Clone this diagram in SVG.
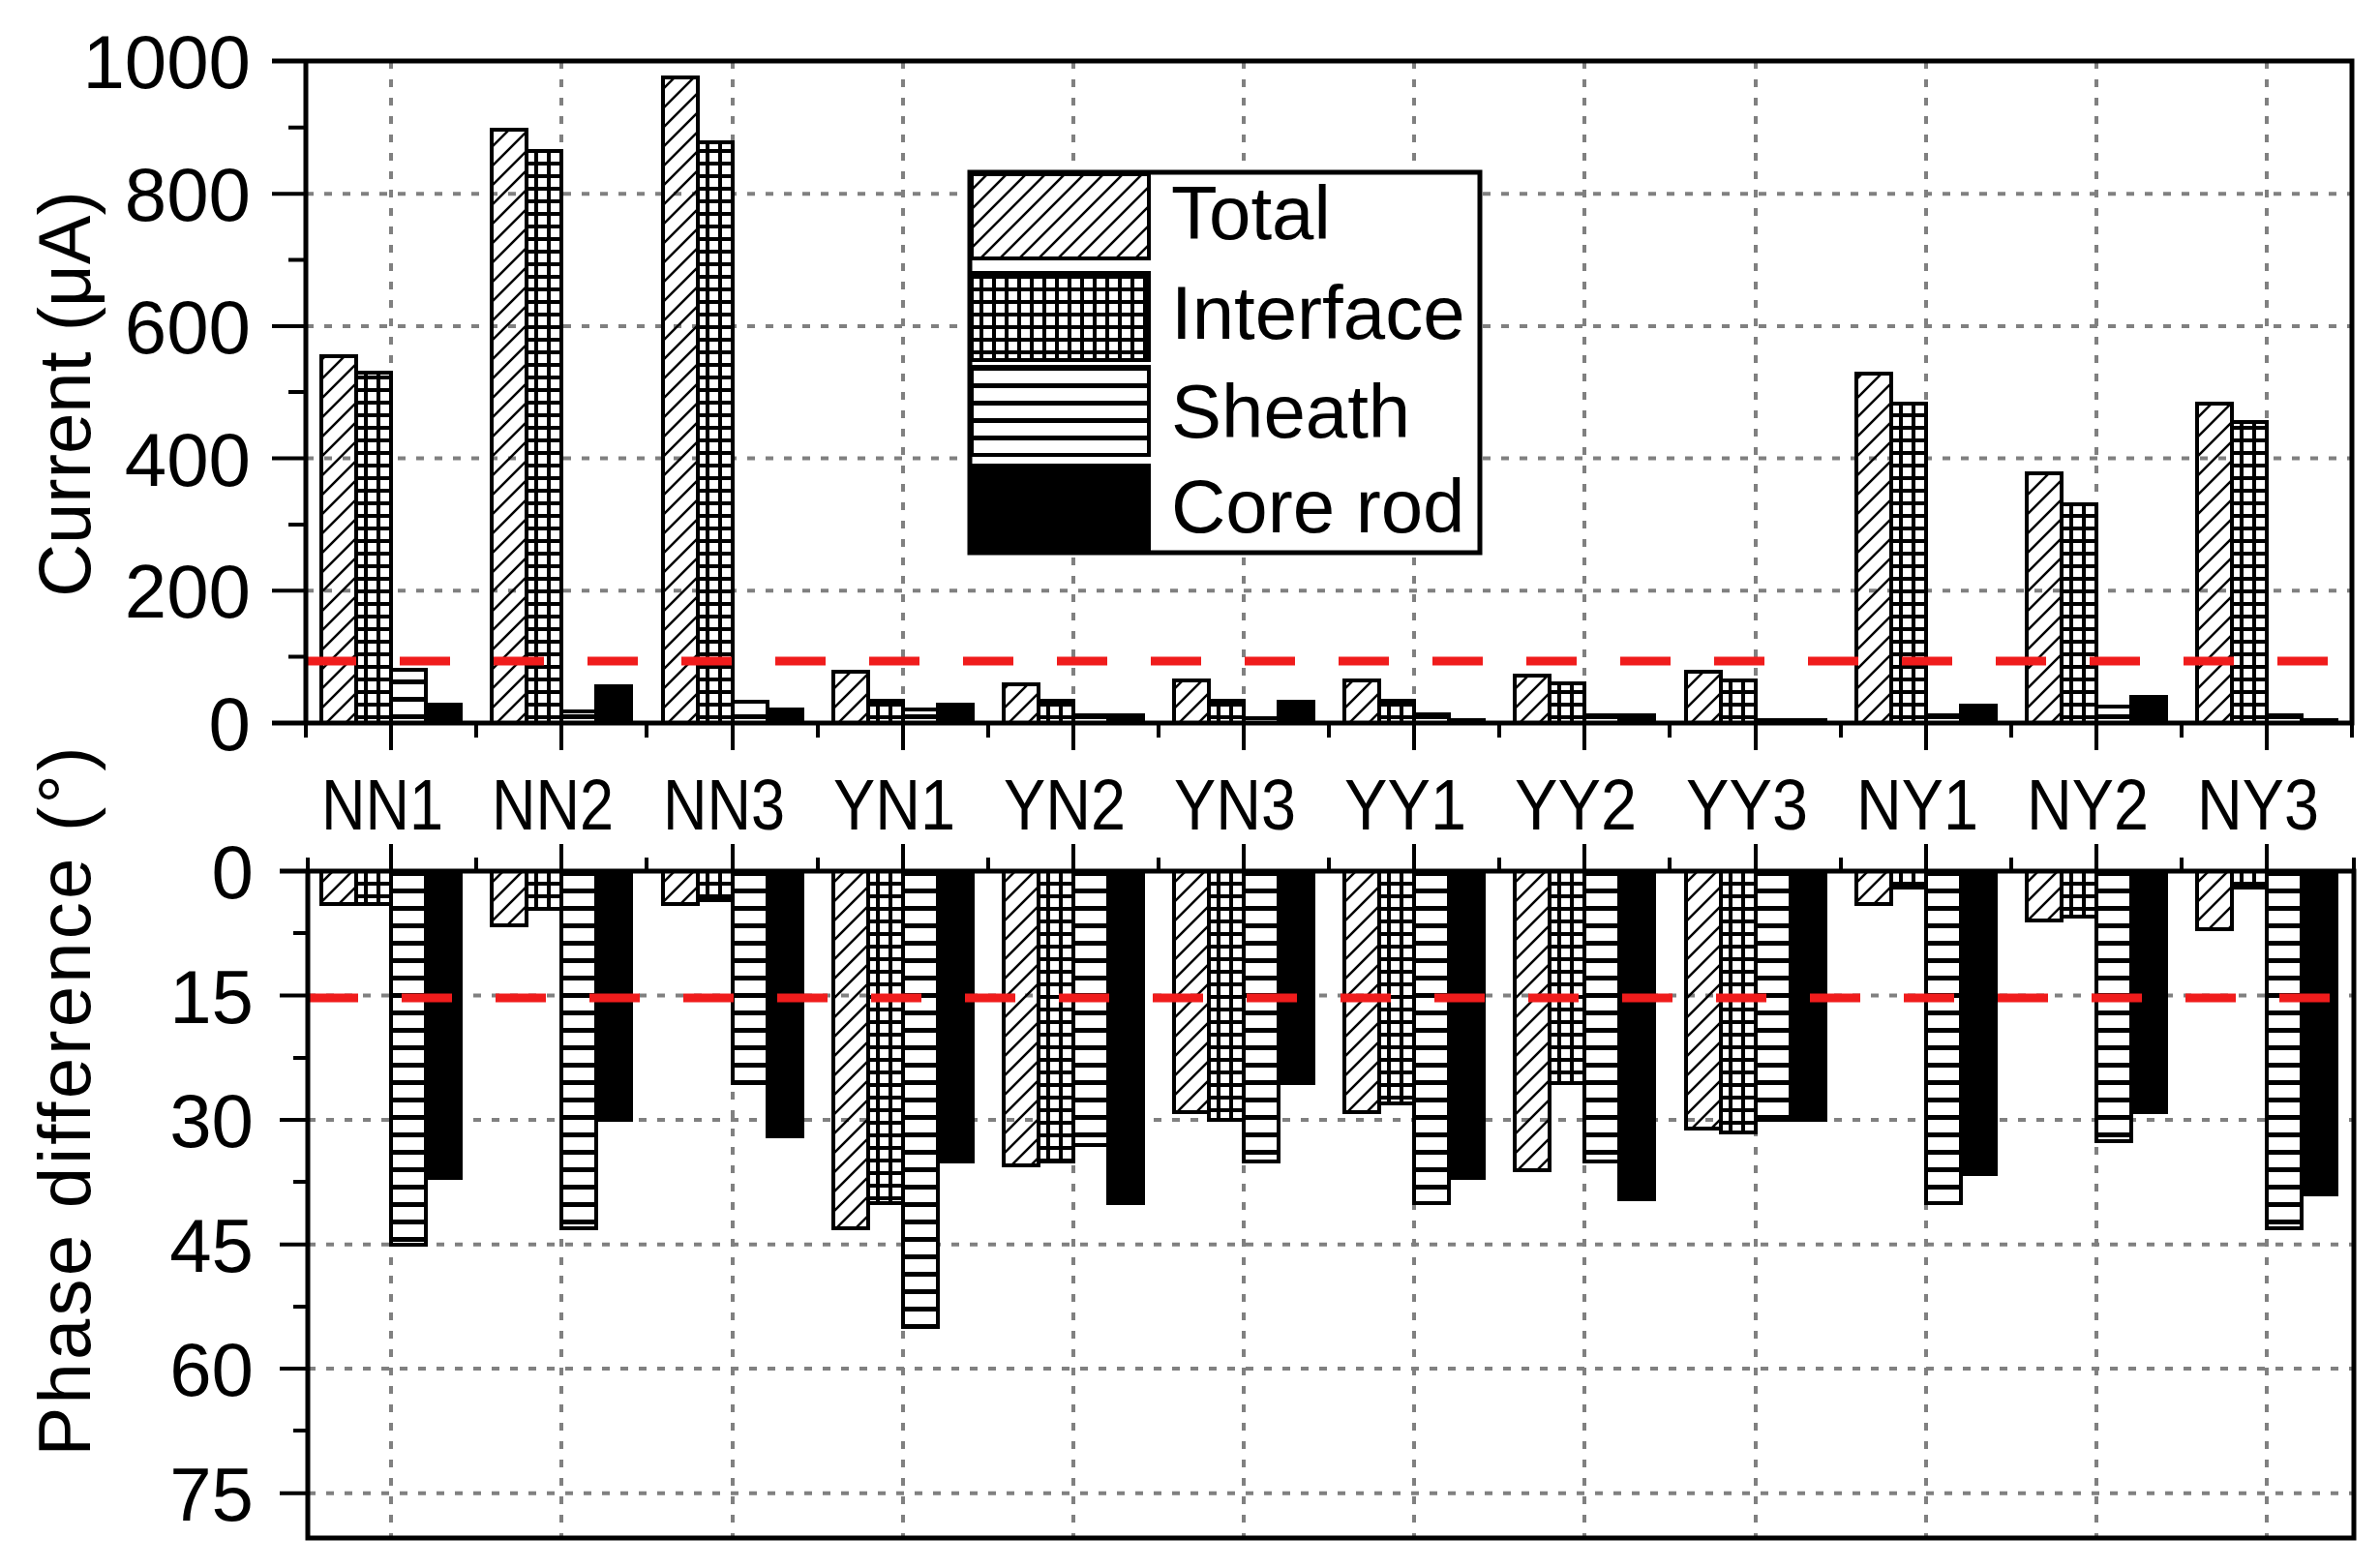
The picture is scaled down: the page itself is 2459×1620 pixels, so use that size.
<svg xmlns="http://www.w3.org/2000/svg" width="2459" height="1620" viewBox="0 0 2459 1620">
<defs>
<pattern id="pd" patternUnits="userSpaceOnUse" width="20" height="20"><path d="M-5,5 L5,-5 M0,20 L20,0 M15,25 L25,15" stroke="#000" stroke-width="2.5"/></pattern>
<pattern id="pg" patternUnits="userSpaceOnUse" width="13" height="13"><rect width="13" height="13" fill="#000"/><rect x="2" y="2" width="9" height="9" fill="#fff"/></pattern>
<pattern id="ph" patternUnits="userSpaceOnUse" width="18" height="18"><rect width="18" height="18" fill="#fff"/><rect y="0" width="18" height="5" fill="#000"/></pattern>
</defs>
<style>
.t{fill:url(#pd);stroke:#000;stroke-width:4}
.i{fill:url(#pg);stroke:#000;stroke-width:4}
.s{fill:url(#ph);stroke:#000;stroke-width:4}
.c{fill:#000;stroke:#000;stroke-width:4}
.grid{stroke:#808080;stroke-width:4;stroke-dasharray:8 11;fill:none}
.ax{stroke:#000;stroke-width:5;fill:none}
.tk{stroke:#000;stroke-width:4;fill:none}
.red{stroke:#f01c1c;stroke-width:9;stroke-dasharray:52 45;fill:none}
text{font-family:"Liberation Sans",Arial,sans-serif;fill:#000}
.num{font-size:78px;text-anchor:end}
.cat{font-size:74px;text-anchor:middle}
.leg{font-size:78px}
</style>
<g id="grid">
<path class="grid" d="M316,610.3H2430M316,473.6H2430M316,336.9H2430M316,200.2H2430"/>
<path class="grid" d="M404,63V747M580,63V747M757,63V747M933,63V747M1109,63V747M1285,63V747M1461,63V747M1637,63V747M1814,63V747M1990,63V747M2166,63V747M2342,63V747"/>
<path class="grid" d="M318,1028.6H2432M318,1157H2432M318,1285.7H2432M318,1414H2432M318,1542.8H2432"/>
<path class="grid" d="M404,900V1589M580,900V1589M757,900V1589M933,900V1589M1109,900V1589M1285,900V1589M1461,900V1589M1637,900V1589M1814,900V1589M1990,900V1589M2166,900V1589M2342,900V1589"/>
</g>
<g id="top-bars">
<g transform="translate(404,0)"><rect class="t" x="-72" y="368" width="36" height="379"/><rect class="i" x="-36" y="385" width="36" height="362"/><rect class="s" x="0" y="692" width="36" height="55"/><rect class="c" x="36" y="728" width="36" height="19"/></g>
<g transform="translate(580,0)"><rect class="t" x="-72" y="134" width="36" height="613"/><rect class="i" x="-36" y="156" width="36" height="591"/><rect class="s" x="0" y="735" width="36" height="12"/><rect class="c" x="36" y="709" width="36" height="38"/></g>
<g transform="translate(757,0)"><rect class="t" x="-72" y="80" width="36" height="667"/><rect class="i" x="-36" y="147" width="36" height="600"/><rect class="s" x="0" y="725" width="36" height="22"/><rect class="c" x="36" y="733" width="36" height="14"/></g>
<g transform="translate(933,0)"><rect class="t" x="-72" y="694" width="36" height="53"/><rect class="i" x="-36" y="724" width="36" height="23"/><rect class="s" x="0" y="733" width="36" height="14"/><rect class="c" x="36" y="728" width="36" height="19"/></g>
<g transform="translate(1109,0)"><rect class="t" x="-72" y="707" width="36" height="40"/><rect class="i" x="-36" y="724" width="36" height="23"/><rect class="s" x="0" y="739" width="36" height="8"/><rect class="c" x="36" y="739" width="36" height="8"/></g>
<g transform="translate(1285,0)"><rect class="t" x="-72" y="703" width="36" height="44"/><rect class="i" x="-36" y="724" width="36" height="23"/><rect class="s" x="0" y="742" width="36" height="5"/><rect class="c" x="36" y="725" width="36" height="22"/></g>
<g transform="translate(1461,0)"><rect class="t" x="-72" y="703" width="36" height="44"/><rect class="i" x="-36" y="724" width="36" height="23"/><rect class="s" x="0" y="738" width="36" height="9"/><rect class="c" x="36" y="744" width="36" height="3"/></g>
<g transform="translate(1637,0)"><rect class="t" x="-72" y="698" width="36" height="49"/><rect class="i" x="-36" y="706" width="36" height="41"/><rect class="s" x="0" y="739" width="36" height="8"/><rect class="c" x="36" y="739" width="36" height="8"/></g>
<g transform="translate(1814,0)"><rect class="t" x="-72" y="694" width="36" height="53"/><rect class="i" x="-36" y="703" width="36" height="44"/><rect class="s" x="0" y="744" width="36" height="3"/><rect class="c" x="36" y="744" width="36" height="3"/></g>
<g transform="translate(1990,0)"><rect class="t" x="-72" y="386" width="36" height="361"/><rect class="i" x="-36" y="417" width="36" height="330"/><rect class="s" x="0" y="739" width="36" height="8"/><rect class="c" x="36" y="729" width="36" height="18"/></g>
<g transform="translate(2166,0)"><rect class="t" x="-72" y="489" width="36" height="258"/><rect class="i" x="-36" y="521" width="36" height="226"/><rect class="s" x="0" y="730" width="36" height="17"/><rect class="c" x="36" y="720" width="36" height="27"/></g>
<g transform="translate(2342,0)"><rect class="t" x="-72" y="417" width="36" height="330"/><rect class="i" x="-36" y="436" width="36" height="311"/><rect class="s" x="0" y="739" width="36" height="8"/><rect class="c" x="36" y="744" width="36" height="3"/></g>
</g>
<g id="bottom-bars">
<g transform="translate(404,900)"><rect class="t" x="-72" y="0" width="36" height="34"/><rect class="i" x="-36" y="0" width="36" height="34"/><rect class="s" x="0" y="0" width="36" height="386"/><rect class="c" x="36" y="0" width="36" height="317"/></g>
<g transform="translate(580,900)"><rect class="t" x="-72" y="0" width="36" height="56"/><rect class="i" x="-36" y="0" width="36" height="39"/><rect class="s" x="0" y="0" width="36" height="369"/><rect class="c" x="36" y="0" width="36" height="257"/></g>
<g transform="translate(757,900)"><rect class="t" x="-72" y="0" width="36" height="34"/><rect class="i" x="-36" y="0" width="36" height="30"/><rect class="s" x="0" y="0" width="36" height="219"/><rect class="c" x="36" y="0" width="36" height="274"/></g>
<g transform="translate(933,900)"><rect class="t" x="-72" y="0" width="36" height="369"/><rect class="i" x="-36" y="0" width="36" height="343"/><rect class="s" x="0" y="0" width="36" height="471"/><rect class="c" x="36" y="0" width="36" height="300"/></g>
<g transform="translate(1109,900)"><rect class="t" x="-72" y="0" width="36" height="304"/><rect class="i" x="-36" y="0" width="36" height="300"/><rect class="s" x="0" y="0" width="36" height="283"/><rect class="c" x="36" y="0" width="36" height="343"/></g>
<g transform="translate(1285,900)"><rect class="t" x="-72" y="0" width="36" height="249"/><rect class="i" x="-36" y="0" width="36" height="257"/><rect class="s" x="0" y="0" width="36" height="300"/><rect class="c" x="36" y="0" width="36" height="219"/></g>
<g transform="translate(1461,900)"><rect class="t" x="-72" y="0" width="36" height="249"/><rect class="i" x="-36" y="0" width="36" height="240"/><rect class="s" x="0" y="0" width="36" height="343"/><rect class="c" x="36" y="0" width="36" height="317"/></g>
<g transform="translate(1637,900)"><rect class="t" x="-72" y="0" width="36" height="309"/><rect class="i" x="-36" y="0" width="36" height="219"/><rect class="s" x="0" y="0" width="36" height="300"/><rect class="c" x="36" y="0" width="36" height="339"/></g>
<g transform="translate(1814,900)"><rect class="t" x="-72" y="0" width="36" height="266"/><rect class="i" x="-36" y="0" width="36" height="270"/><rect class="s" x="0" y="0" width="36" height="257"/><rect class="c" x="36" y="0" width="36" height="257"/></g>
<g transform="translate(1990,900)"><rect class="t" x="-72" y="0" width="36" height="34"/><rect class="i" x="-36" y="0" width="36" height="17"/><rect class="s" x="0" y="0" width="36" height="343"/><rect class="c" x="36" y="0" width="36" height="313"/></g>
<g transform="translate(2166,900)"><rect class="t" x="-72" y="0" width="36" height="51"/><rect class="i" x="-36" y="0" width="36" height="47"/><rect class="s" x="0" y="0" width="36" height="279"/><rect class="c" x="36" y="0" width="36" height="249"/></g>
<g transform="translate(2342,900)"><rect class="t" x="-72" y="0" width="36" height="60"/><rect class="i" x="-36" y="0" width="36" height="17"/><rect class="s" x="0" y="0" width="36" height="369"/><rect class="c" x="36" y="0" width="36" height="334"/></g>
</g>
<g id="thresholds">
<path class="red" d="M316,683H2430"/>
<path class="red" d="M318,1031H2432"/>
</g>
<g id="axes">
<path class="ax" d="M281,63H2430V747H281M316,63V747"/>
<path class="tk" d="M281,610.3H316M281,473.6H316M281,336.9H316M281,200.2H316M298,678.6H316M298,542H316M298,405H316M298,268.5H316M298,131.8H316"/>
<path class="tk" d="M404,747V775M580,747V775M757,747V775M933,747V775M1109,747V775M1285,747V775M1461,747V775M1637,747V775M1814,747V775M1990,747V775M2166,747V775M2342,747V775M492,747V762M668,747V762M845,747V762M1021,747V762M1197,747V762M1373,747V762M1549,747V762M1725,747V762M1902,747V762M2078,747V762M2254,747V762M316,747V762M2430,747V762"/>
<path class="ax" d="M289,900H2432V1589H318V900"/>
<path class="tk" d="M289,1028.6H318M289,1157H318M289,1285.7H318M289,1414H318M289,1542.8H318M303,964H318M303,1093H318M303,1221H318M303,1350H318M303,1478H318"/>
<path class="tk" d="M404,900V872M580,900V872M757,900V872M933,900V872M1109,900V872M1285,900V872M1461,900V872M1637,900V872M1814,900V872M1990,900V872M2166,900V872M2342,900V872M492,900V886M668,900V886M845,900V886M1021,900V886M1197,900V886M1373,900V886M1549,900V886M1725,900V886M1902,900V886M2078,900V886M2254,900V886M318,900V886M2432,900V886"/>
</g>
<g id="labels">
<text class="num" x="259" y="91">1000</text>
<text class="num" x="259" y="228">800</text>
<text class="num" x="259" y="365">600</text>
<text class="num" x="259" y="502">400</text>
<text class="num" x="259" y="638">200</text>
<text class="num" x="259" y="775">0</text>
<text class="num" x="262" y="928">0</text>
<text class="num" x="262" y="1057">15</text>
<text class="num" x="262" y="1185">30</text>
<text class="num" x="262" y="1314">45</text>
<text class="num" x="262" y="1442">60</text>
<text class="num" x="262" y="1571">75</text>
<text class="cat" x="395" y="857" textLength="126" lengthAdjust="spacingAndGlyphs">NN1</text>
<text class="cat" x="571" y="857" textLength="126" lengthAdjust="spacingAndGlyphs">NN2</text>
<text class="cat" x="748" y="857" textLength="126" lengthAdjust="spacingAndGlyphs">NN3</text>
<text class="cat" x="924" y="857" textLength="126" lengthAdjust="spacingAndGlyphs">YN1</text>
<text class="cat" x="1100" y="857" textLength="126" lengthAdjust="spacingAndGlyphs">YN2</text>
<text class="cat" x="1276" y="857" textLength="126" lengthAdjust="spacingAndGlyphs">YN3</text>
<text class="cat" x="1452" y="857" textLength="126" lengthAdjust="spacingAndGlyphs">YY1</text>
<text class="cat" x="1628" y="857" textLength="126" lengthAdjust="spacingAndGlyphs">YY2</text>
<text class="cat" x="1805" y="857" textLength="126" lengthAdjust="spacingAndGlyphs">YY3</text>
<text class="cat" x="1981" y="857" textLength="126" lengthAdjust="spacingAndGlyphs">NY1</text>
<text class="cat" x="2157" y="857" textLength="126" lengthAdjust="spacingAndGlyphs">NY2</text>
<text class="cat" x="2333" y="857" textLength="126" lengthAdjust="spacingAndGlyphs">NY3</text>
<text font-size="76" text-anchor="middle" transform="translate(93,407) rotate(-90)">Current (μA)</text>
<text font-size="76" text-anchor="middle" transform="translate(93,1138) rotate(-90)" textLength="733" lengthAdjust="spacing">Phase difference (°)</text>
</g>
<g id="legend">
<rect x="1002" y="178" width="527" height="393" fill="#fff" stroke="#000" stroke-width="5"/>
<rect class="t" x="1004" y="180" width="183" height="87"/>
<rect class="i" x="1004" y="282" width="183" height="90"/>
<rect class="s" x="1004" y="379" width="183" height="91"/>
<rect class="c" x="1004" y="481" width="183" height="88"/>
<text class="leg" x="1210" y="247">Total</text>
<text class="leg" x="1210" y="350">Interface</text>
<text class="leg" x="1210" y="452">Sheath</text>
<text class="leg" x="1210" y="550">Core rod</text>
</g>
</svg>
